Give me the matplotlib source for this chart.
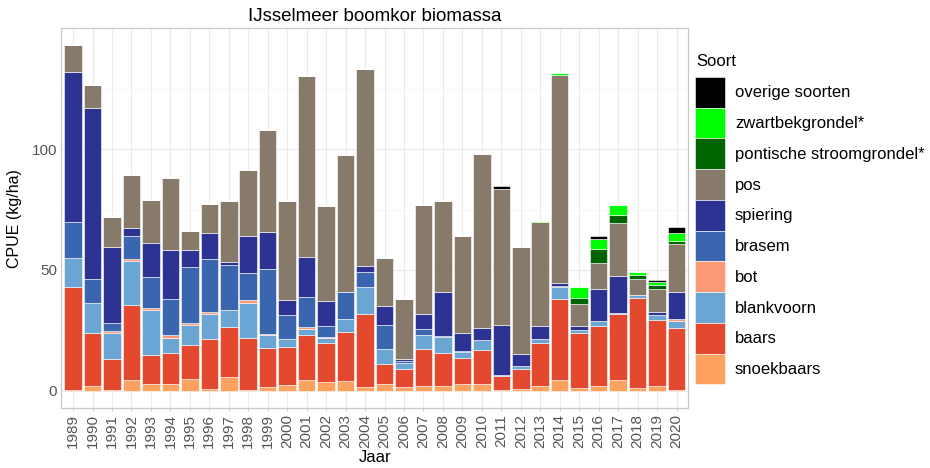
#!/usr/bin/env python3
"""IJsselmeer boomkor biomassa: stacked CPUE per soort per jaar."""

import matplotlib

matplotlib.use("Agg")
import matplotlib.pyplot as plt
import numpy as np
from matplotlib.patches import Patch

plt.rcParams["font.family"] = ["Liberation Sans", "DejaVu Sans"]

years = list(range(1989, 2021))

# CPUE (kg/ha) per soort
snoekbaars = [0.5, 2.1, 0.3, 4.5, 2.8, 3.0, 5.1, 0.7, 5.8, 0.3, 1.7, 2.3, 4.4, 3.7, 4.0, 1.8,
              2.8, 1.8, 2.1, 2.1, 2.8, 2.8, 0.5, 0.7, 2.1, 4.5, 1.1, 2.1, 4.5, 1.4, 2.1, 0.3]
baars = [42.5, 22.0, 12.8, 31.1, 12.1, 12.8, 14.0, 20.9, 20.6, 21.6, 16.2, 15.9, 18.6, 16.0, 20.3, 30.1,
         8.2, 7.4, 15.1, 13.7, 11.0, 14.1, 5.7, 8.3, 17.9, 33.6, 22.7, 24.7, 27.3, 37.0, 27.2, 25.8]
blankvoorn = [11.8, 12.1, 11.0, 18.2, 18.4, 6.2, 8.1, 10.0, 6.9, 14.6, 5.2, 3.1, 2.4, 2.3, 5.3, 11.2,
              6.2, 2.3, 5.8, 6.6, 2.3, 4.0, 0.3, 1.3, 1.3, 5.0, 1.2, 2.1, 0.5, 1.1, 1.9, 3.0]
bot = [0.0, 0.0, 0.5, 0.8, 1.1, 1.1, 0.7, 1.1, 0.2, 0.9, 0.3, 0.2, 1.0, 0.2, 0.0, 0.0,
       0.0, 0.0, 0.2, 0.0, 0.0, 0.0, 0.0, 0.0, 0.0, 0.0, 0.0, 0.0, 0.0, 0.0, 0.0, 0.5]
brasem = [15.2, 10.2, 3.5, 9.5, 12.9, 15.1, 23.3, 21.9, 18.7, 11.4, 27.2, 9.9, 12.4, 4.8, 11.4, 6.0,
          10.2, 0.8, 2.5, 0.3, 0.3, 0.3, 0.0, 0.2, 0.2, 0.3, 0.0, 0.0, 0.0, 0.0, 0.0, 0.0]
spiering = [61.7, 70.5, 31.2, 3.4, 13.8, 20.1, 7.1, 10.6, 1.0, 15.4, 15.0, 6.0, 16.6, 10.3, 0.0, 2.5,
            7.7, 0.8, 6.1, 18.3, 7.4, 5.0, 20.6, 4.6, 5.3, 1.3, 1.8, 13.3, 15.4, 0.2, 1.4, 11.4]
pos = [11.2, 9.4, 12.5, 21.6, 17.9, 29.9, 7.7, 12.2, 25.3, 27.3, 42.2, 41.1, 74.9, 39.2, 56.7, 81.5,
       19.9, 25.0, 45.0, 37.4, 40.4, 71.6, 56.4, 44.3, 43.2, 85.8, 9.0, 10.8, 21.8, 6.7, 9.6, 19.9]
pontische = [0.0] * 26 + [2.7, 5.7, 3.4, 1.7, 1.4, 1.0]
zwartbek = [0.0] * 24 + [0.3, 0.9, 4.4, 4.2, 4.1, 1.0, 1.4, 3.4]
overige = [0.0] * 22 + [1.4, 0.0, 0.0, 0.0, 0.0, 1.3, 0.0, 0.0, 0.7, 2.4]

# stacking order, bottom to top
series = [
    ("snoekbaars", snoekbaars, "#FDA25F"),
    ("baars", baars, "#E2492F"),
    ("blankvoorn", blankvoorn, "#6AA5D3"),
    ("bot", bot, "#FC9A78"),
    ("brasem", brasem, "#3A66B0"),
    ("spiering", spiering, "#2D3393"),
    ("pos", pos, "#877A6A"),
    ("pontische stroomgrondel*", pontische, "#006400"),
    ("zwartbekgrondel*", zwartbek, "#00FF00"),
    ("overige soorten", overige, "#000000"),
]

W, H = 930, 468


def main() -> int:
    fig = plt.figure(figsize=(W / 100, H / 100), dpi=100)
    ax = fig.add_axes([0.066, 0.128, 0.674, 0.812])

    x = np.arange(len(years))
    bottom = np.zeros(len(years))
    for name, vals, color in series:
        vals = np.asarray(vals, dtype=float)
        ax.bar(x, vals, bottom=bottom, width=0.9, color=color,
               edgecolor="white", linewidth=0.4, zorder=3)
        bottom += vals

    ax.set_xlim(-0.6, len(years) - 0.4)
    ax.set_ylim(-7.1, 150)
    ax.set_xticks(x)
    ax.set_xticklabels([str(y) for y in years], rotation=90, fontsize=11, color="#555555")
    ax.set_yticks([0, 50, 100])
    ax.set_yticks([25, 75, 125], minor=True)
    ax.tick_params(axis="y", labelsize=11, labelcolor="#555555", length=0, pad=3)
    ax.tick_params(axis="x", length=2, color="#c8c8c8", width=0.6, pad=2)
    ax.tick_params(axis="y", which="minor", length=0)

    ax.grid(True, which="major", color="#ebebeb", linewidth=0.8, zorder=0)
    ax.grid(True, which="minor", axis="y", color="#f3f3f3", linewidth=0.5, zorder=0)
    for sp in ax.spines.values():
        sp.set_color("#c8c8c8")
        sp.set_linewidth(0.9)

    ax.set_title("IJsselmeer boomkor biomassa", fontsize=13.5, pad=5)
    ax.set_xlabel("Jaar", fontsize=12, labelpad=2)
    ax.set_ylabel("CPUE (kg/ha)", fontsize=11.5, labelpad=7)

    # legend: title placed separately to get the larger gap above the keys
    fig.text(696 / W, 1 - 61 / H, "Soort", fontsize=12, ha="left", va="center")
    handles = [Patch(facecolor=c, edgecolor="white", linewidth=0.4, label=n)
               for n, _, c in reversed(series)]
    fig.legend(handles=handles, loc="upper left", bbox_to_anchor=(695 / W, 1 - 77 / H),
               frameon=False, fontsize=12, handlelength=1.8, handleheight=2.46,
               labelspacing=0.0, handletextpad=0.6, borderpad=0.0, borderaxespad=0.0)

    fig.savefig("out.png", dpi=100)
    plt.close(fig)
    return 0


if __name__ == "__main__":
    raise SystemExit(main())
